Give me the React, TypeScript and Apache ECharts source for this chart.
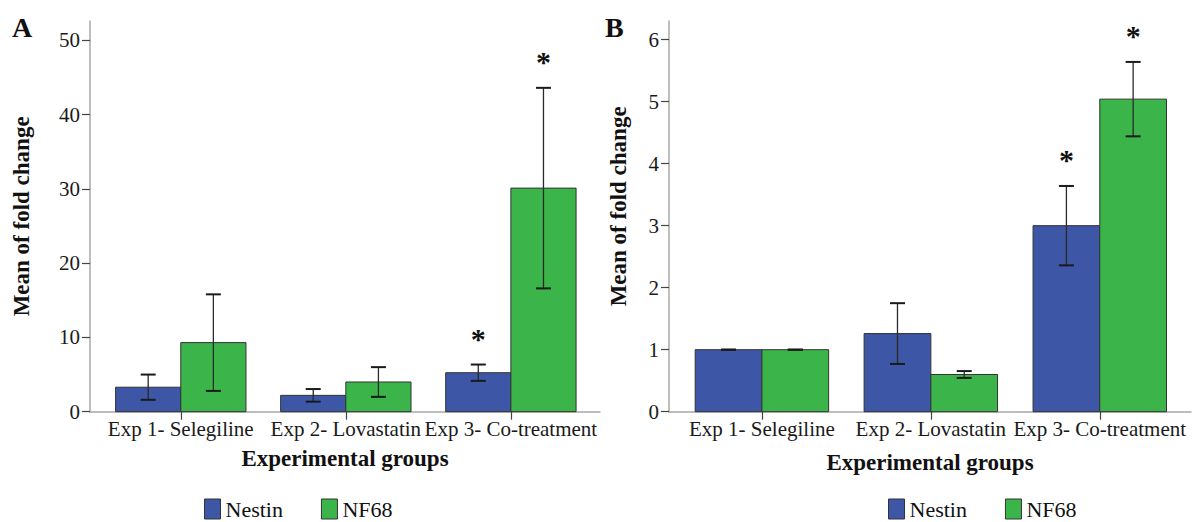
import React, { useEffect, useRef } from "react";
import * as echarts from "echarts";

const categories = ["Exp 1- Selegiline", "Exp 2- Lovastatin", "Exp 3- Co-treatment"];
const seriesNames = ["Nestin", "NF68"];

// Panel A
const nestinA = [3.3, 2.2, 5.25];
const nestinErrA = [1.7, 0.85, 1.1];
const nf68A = [9.3, 4.0, 30.1];
const nf68ErrA = [6.5, 2.0, 13.5];
const nestinSigA = [0, 0, 1];
const nf68SigA = [0, 0, 1];
const yTicksA = [0, 10, 20, 30, 40, 50];

// Panel B
const nestinB = [1.0, 1.26, 3.0];
const nestinErrB = [0.0, 0.49, 0.64];
const nf68B = [1.0, 0.6, 5.04];
const nf68ErrB = [0.0, 0.055, 0.6];
const nestinSigB = [0, 0, 1];
const nf68SigB = [0, 0, 1];
const yTicksB = [0, 1, 2, 3, 4, 5, 6];

const FONT = "Liberation Serif";
const BLUE = "#3e56a6";
const GREEN = "#3bb54a";
const BAR_W = 0.395;

function makeSeries(
  name: string,
  color: string,
  vals: number[],
  errs: number[],
  sigs: number[],
  side: number,
  axisIndex: number
) {
  return {
    type: "custom",
    name,
    xAxisIndex: axisIndex,
    yAxisIndex: axisIndex,
    itemStyle: { color },
    encode: { x: 0, y: 1 },
    data: vals.map((v, i) => [i + 1, v, errs[i], sigs[i]]),
    renderItem: (params: any, api: any) => {
      const c = api.value(0);
      const v = api.value(1);
      const e = api.value(2);
      const s = api.value(3);
      const x0 = side < 0 ? c - BAR_W : c;
      const x1 = side < 0 ? c : c + BAR_W;
      const pBase = api.coord([x0, 0]);
      const pTop = api.coord([x1, v]);
      const xc = api.coord([c + (side * BAR_W) / 2, v])[0];
      const yHi = api.coord([c, v + e])[1];
      const yLo = api.coord([c, v - e])[1];
      const cap = 7.5;
      const children: any[] = [
        {
          type: "rect",
          shape: { x: pBase[0], y: pTop[1], width: pTop[0] - pBase[0], height: pBase[1] - pTop[1] },
          style: { fill: color, stroke: "#333", lineWidth: 1 },
        },
        {
          type: "line",
          shape: { x1: xc, y1: yHi, x2: xc, y2: yLo },
          style: { stroke: "#2a2a2a", lineWidth: 1.3 },
        },
        {
          type: "line",
          shape: { x1: xc - cap, y1: yHi, x2: xc + cap, y2: yHi },
          style: { stroke: "#1a1a1a", lineWidth: 2 },
        },
        {
          type: "line",
          shape: { x1: xc - cap, y1: yLo, x2: xc + cap, y2: yLo },
          style: { stroke: "#1a1a1a", lineWidth: 2 },
        },
      ];
      if (s) {
        children.push({
          type: "text",
          x: xc,
          y: yHi - 26,
          style: {
            text: "*",
            fontSize: 30,
            fontWeight: "bold",
            fontFamily: FONT,
            fill: "#111",
            align: "center",
            verticalAlign: "middle",
          },
        });
      }
      return { type: "group", children };
    },
  };
}

function xAxis(gridIndex: number, nameGap: number) {
  return {
    type: "value",
    gridIndex,
    min: 0.45,
    max: 3.54,
    splitLine: { show: false },
    axisLine: { show: true, lineStyle: { color: "#a8a8a8", width: 1.5 } },
    axisTick: { show: true, customValues: [1, 2, 3], length: 8, lineStyle: { color: "#444", width: 1.2 } },
    axisLabel: {
      customValues: [1, 2, 3],
      formatter: (v: number) => categories[Math.round(v) - 1] || "",
      fontSize: 21,
      fontFamily: FONT,
      color: "#1a1a1a",
      margin: 7,
    },
    name: "Experimental groups",
    nameLocation: "middle",
    nameGap,
    nameTextStyle: { fontSize: 23, fontWeight: "bold", fontFamily: FONT, color: "#111" },
  };
}

function yAxis(gridIndex: number, max: number, ticks: number[], nameGap: number, padding: number[]) {
  return {
    type: "value",
    gridIndex,
    min: 0,
    max,
    splitLine: { show: false },
    axisLine: { show: true, lineStyle: { color: "#a8a8a8", width: 1.5 } },
    axisTick: { show: true, customValues: ticks, length: 8, lineStyle: { color: "#444", width: 1.2 } },
    axisLabel: {
      customValues: ticks,
      fontSize: 21,
      fontFamily: FONT,
      color: "#1a1a1a",
      margin: 10,
    },
    name: "Mean of fold change",
    nameLocation: "middle",
    nameGap,
    nameRotate: 90,
    nameTextStyle: { fontSize: 23, fontWeight: "bold", fontFamily: FONT, color: "#111", padding },
  };
}

export default function App() {
  const ref = useRef<HTMLDivElement>(null);
  useEffect(() => {
    if (!ref.current) return;
    const chart = echarts.init(ref.current, undefined, { renderer: "svg" });
    const legendCommon = {
      data: seriesNames,
      icon: "rect",
      itemWidth: 16,
      itemHeight: 20,
      itemGap: 38,
      padding: 0,
      orient: "horizontal",
      formatter: (name: string) => `{t|${name}}`,
      textStyle: {
        fontSize: 22,
        fontFamily: FONT,
        color: "#111",
        rich: { t: { fontSize: 22, fontFamily: FONT, color: "#111" } },
      },
      itemStyle: { borderColor: "#333", borderWidth: 1 },
    };
    chart.setOption({
      animation: false,
      backgroundColor: "#fff",
      textStyle: { fontFamily: FONT },
      grid: [
        { left: 90, top: 21, width: 510, height: 390.7 },
        { left: 669, top: 21, width: 522, height: 390.7 },
      ],
      xAxis: [xAxis(0, 35), xAxis(1, 39)],
      yAxis: [yAxis(0, 52.6, yTicksA, 57, [0, 0, 0, 0]), yAxis(1, 6.3, yTicksB, 39, [0, 0, 0, 20])],
      legend: [
        { ...legendCommon, left: 204, top: 498 },
        { ...legendCommon, left: 888, top: 498 },
      ],
      graphic: [
        {
          type: "text",
          left: 12,
          top: 13,
          style: { text: "A", fontSize: 28, fontWeight: "bold", fontFamily: FONT, fill: "#111" },
        },
        {
          type: "text",
          left: 605,
          top: 13,
          style: { text: "B", fontSize: 28, fontWeight: "bold", fontFamily: FONT, fill: "#111" },
        },
      ],
      series: [
        makeSeries("Nestin", BLUE, nestinA, nestinErrA, nestinSigA, -1, 0),
        makeSeries("NF68", GREEN, nf68A, nf68ErrA, nf68SigA, 1, 0),
        makeSeries("Nestin", BLUE, nestinB, nestinErrB, nestinSigB, -1, 1),
        makeSeries("NF68", GREEN, nf68B, nf68ErrB, nf68SigB, 1, 1),
      ],
    });
    return () => chart.dispose();
  }, []);
  return (
    <div
      ref={ref}
      style={{ position: "fixed", left: 0, top: 0, width: 1199, height: 522, background: "#fff" }}
    />
  );
}
